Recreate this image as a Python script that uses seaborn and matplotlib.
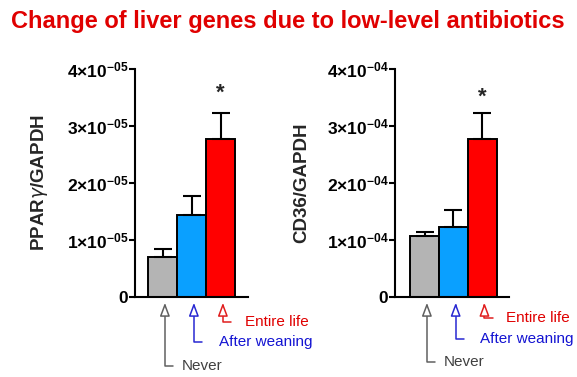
import numpy as np
import matplotlib
matplotlib.use('Agg')
import matplotlib.pyplot as plt
import matplotlib.transforms as mtransforms
from matplotlib.ticker import FixedLocator, FuncFormatter
import seaborn as sns

# Data
groups = ['Never', 'After weaning', 'Entire life']
pparg_mean = [0.70e-5, 1.44e-5, 2.77e-5]
pparg_err = [0.14e-5, 0.33e-5, 0.46e-5]
cd36_mean = [1.07e-4, 1.23e-4, 2.77e-4]
cd36_err = [0.07e-4, 0.30e-4, 0.46e-4]
pparg_ticks = [0, 1e-5, 2e-5, 3e-5, 4e-5]
cd36_ticks = [0, 1e-4, 2e-4, 3e-4, 4e-4]

bar_colors = ['#B4B4B4', '#0AA0FF', '#FF0000']
text_colors = ['#404040', '#1414D2', '#E00000']
line_colors = ['#606060', '#2828D2', '#E01E1E']

sns.set_style('ticks')
plt.rcParams['font.family'] = ['Liberation Sans', 'DejaVu Sans']
plt.rcParams['mathtext.fontset'] = 'custom'
plt.rcParams['mathtext.rm'] = 'Liberation Sans'
plt.rcParams['mathtext.bf'] = 'Liberation Sans:bold'


def sci_label(v, pos):
    if v == 0:
        return '0'
    exp = int(np.floor(np.log10(v) + 1e-9))
    mant = int(round(v / 10 ** exp))
    return r'$\mathbf{%d{\times}10^{-%02d}}$' % (mant, -exp)


fig = plt.figure(figsize=(5.77, 3.77), dpi=100)
fig.patch.set_facecolor('white')

panels = [
    dict(rect=[0.234, 0.212, 0.196, 0.605], mean=pparg_mean, err=pparg_err,
         ticks=pparg_ticks, ylabel=r'PPAR$\gamma$/GAPDH',
         xlim=(-0.95, 2.95), star_off=14, label_x=-0.75,
         text_y=[-0.30, -0.197, -0.11]),
    dict(rect=[0.685, 0.212, 0.198, 0.605], mean=cd36_mean, err=cd36_err,
         ticks=cd36_ticks, ylabel='CD36/GAPDH',
         xlim=(-1.02, 2.95), star_off=11, label_x=-0.74,
         text_y=[-0.285, -0.184, -0.092]),
]

for p in panels:
    ax = fig.add_axes(p['rect'])
    sns.barplot(x=groups, y=p['mean'], hue=groups, palette=bar_colors,
                saturation=1, width=1, edgecolor='black', linewidth=1.4,
                legend=False, errorbar=None, ax=ax)
    x = np.arange(len(groups))
    ax.errorbar(x, p['mean'], yerr=[np.zeros(len(groups)), p['err']],
                fmt='none', ecolor='black', elinewidth=1.5,
                capsize=6.5, capthick=1.5, zorder=1)
    ax.set_xlim(*p['xlim'])
    ax.set_ylim(0, p['ticks'][-1])
    ax.yaxis.set_major_locator(FixedLocator(p['ticks']))
    ax.yaxis.set_major_formatter(FuncFormatter(sci_label))
    ax.set_xticks([])
    ax.tick_params(axis='y', length=4, width=1.5, labelsize=12.5,
                   pad=1, colors='black')
    for t in ax.get_yticklabels():
        t.set_fontweight('bold')
    for side in ['top', 'right']:
        ax.spines[side].set_visible(False)
    for side in ['left', 'bottom']:
        ax.spines[side].set_linewidth(1.5)
        ax.spines[side].set_color('black')
    ax.set_ylabel(p['ylabel'], fontsize=13.5, fontweight='bold')
    ax.yaxis.set_label_coords(p['label_x'], 0.5)

    # significance star
    ax.annotate('*', xy=(2, p['mean'][2] + p['err'][2]),
                xytext=(0, p['star_off']), textcoords='offset points',
                ha='center', va='center', fontsize=16, fontweight='bold')

    # group arrows below the bars
    blend = mtransforms.blended_transform_factory(ax.transData, ax.transAxes)
    text_x = [0.65, 1.94, 2.83]
    for i, g in enumerate(groups):
        ax.annotate('', xy=(i + 0.08, -0.025), xycoords=blend,
                    xytext=(i + 0.36, p['text_y'][i]), textcoords=blend,
                    annotation_clip=False,
                    arrowprops=dict(arrowstyle='-|>,head_length=0.8,head_width=0.3',
                                    connectionstyle='angle,angleA=0,angleB=90,rad=0',
                                    ec=line_colors[i], fc='white', lw=1.1,
                                    shrinkA=0, shrinkB=0, mutation_scale=10))
        ax.text(text_x[i], p['text_y'][i], g, transform=blend, ha='left',
                va='center', fontsize=11, color=text_colors[i], clip_on=False)

fig.text(0.498, 0.926, 'Change of liver genes due to low-level antibiotics',
         ha='center', va='baseline', fontsize=17, fontweight='bold',
         color='#E00000')

fig.savefig('out.png', dpi=100, facecolor='white')
plt.close(fig)
